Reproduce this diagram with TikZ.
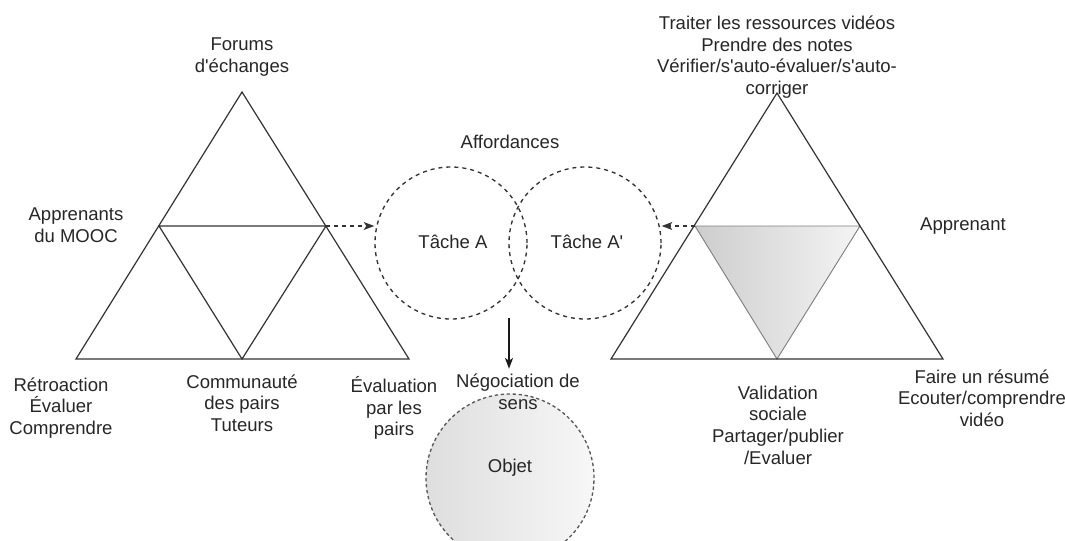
\documentclass[tikz,border=0pt]{standalone}
\usepackage{fontspec}
\setmainfont{Liberation Sans}
\usetikzlibrary{arrows.meta}
\newcommand{\ap}{\textquotesingle}
\definecolor{shadeL}{RGB}{205,205,205}
\definecolor{shadeR}{RGB}{244,244,244}
\definecolor{objL}{RGB}{222,222,222}
\definecolor{objR}{RGB}{247,247,247}
\begin{document}
\begin{tikzpicture}[x=0.75pt,y=-0.75pt,
  every node/.style={font=\fontsize{13.9pt}{16.2pt}\selectfont, text=black!85, inner sep=0pt},
  lbl/.style={align=center},
  edge/.style={draw=black!80, line width=0.9pt, line join=miter},
  inner/.style={draw=black!50, line width=0.7pt},
  dashcirc/.style={circle, draw=black!80, line width=1pt, dash pattern=on 3pt off 3pt},
  dasharrow/.style={draw=black!80, line width=1pt, dash pattern=on 3pt off 3pt, -{Stealth[length=8pt,width=6pt,inset=2pt]}},
  solidarrow/.style={draw=black!90, line width=0.9pt, -{Stealth[length=8pt,width=6pt,inset=2pt]}}]
\useasboundingbox (0,0) rectangle (1065,540);
\begin{scope}
\clip (0,0) rectangle (1065,540);

% left triangle: MOOC community side
\coordinate (A1) at (242,92);
\coordinate (B1) at (76,359);
\coordinate (C1) at (409,359);
\coordinate (L1) at (159,226);
\coordinate (R1) at (326,226);
\coordinate (D1) at (242,359);
\draw[edge] (A1) -- (B1) -- (C1) -- cycle;
\draw[edge] (L1) -- (R1) -- (D1) -- cycle;

% right triangle: learner side, shaded inner triangle
\coordinate (A2) at (777,93);
\coordinate (B2) at (611,359);
\coordinate (C2) at (943,359);
\coordinate (L2) at (695,226);
\coordinate (R2) at (860,226);
\coordinate (D2) at (777,359);
\shade[left color=shadeL, right color=shadeR] (L2) -- (R2) -- (D2) -- cycle;
\draw[inner] (L2) -- (R2) -- (D2) -- cycle;
\draw[edge] (A2) -- (B2) -- (C2) -- cycle;

% task circles
\node[dashcirc, minimum size=114pt] (ta) at (451,243) {};
\node[dashcirc, minimum size=114pt] (tb) at (585,243) {};
\node at (453,242) (tat) {Tâche A};
\node at (587,242) (tbt) {Tâche A\ap};
\node at (510,142) (aff) {Affordances};

% object circle
\node[circle, draw=black!65, line width=1pt, dash pattern=on 2.5pt off 2pt,
      left color=objL, right color=objR, minimum size=126pt] (obj) at (510,478) {};
\node at (510,468) (objt) {Objet};

% labels of the left triangle
\node[lbl] (forums) at (242,57) {Forums\\d\ap échanges};
\node[lbl] (appr) at (76,225) {Apprenants\\du MOOC};
\node[lbl] (retro) at (61,408) {Rétroaction\\Évaluer\\Comprendre};
\node[lbl] (comm) at (242,403) {Communauté\\des pairs\\Tuteurs};
\node[lbl] (evalp) at (394,408) {Évaluation\\par les\\pairs};

% labels of the right triangle
\node[lbl] (traiter) at (777,57) {Traiter les ressources vidéos\\Prendre des notes\\Vérifier/s\ap auto-évaluer/s\ap auto-\\corriger};
\node[lbl] (apprenant) at (963,226) {Apprenant};
\node[lbl] (valid) at (778,425) {Validation\\sociale\\Partager/publier\\/Evaluer};
\node[lbl] (faire) at (982,398) {Faire un résumé\\Ecouter/comprendre\\vidéo};

% negotiation
\node[lbl] (neg) at (518,392) {Négociation de\\sens};
\coordinate (down) at (509,318);

% connectors
\draw[dasharrow] (R1) -- (R1 -| ta.west);
\draw[dasharrow] (L2) -- (L2 -| tb.east);
\draw[solidarrow] (down) -- ([yshift=4pt]down |- neg.north);
\end{scope}
\end{tikzpicture}
\end{document}
